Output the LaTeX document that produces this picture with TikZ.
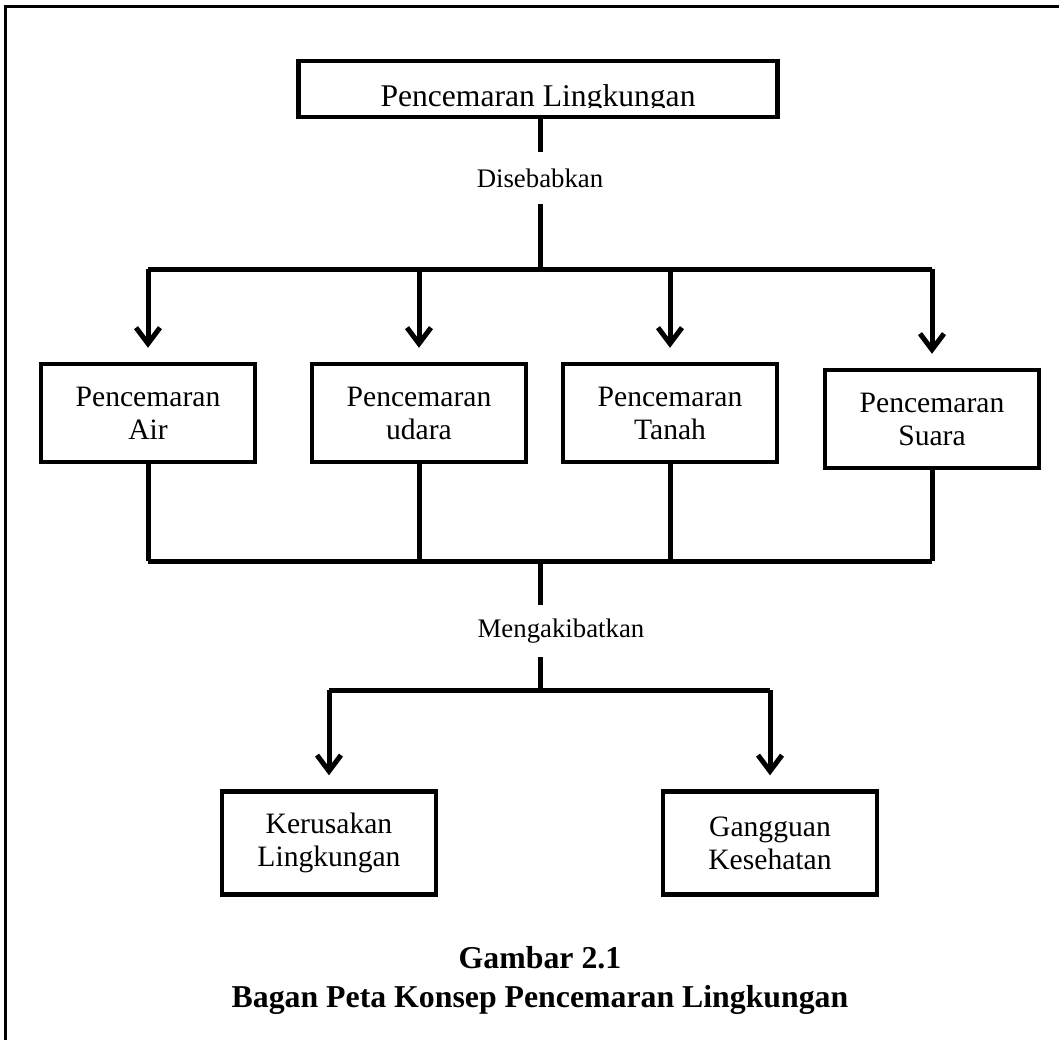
\documentclass[tikz,border=0pt]{standalone}
\usepackage{fontspec}
\setmainfont{Liberation Serif}
\usetikzlibrary{arrows.meta, positioning}

\begin{document}
\begin{tikzpicture}[x=0.5pt, y=-0.5pt,
      box/.style={rectangle, draw=black, line width=2.2pt,
                  minimum width=107pt, minimum height=49pt, inner sep=0pt,
                  font=\fontsize{14.8}{16.5}\selectfont, align=center},
      topbox/.style={rectangle, draw=black, line width=2.2pt,
                  minimum width=239.5pt, minimum height=28pt, inner sep=0pt},
      lbl/.style={inner sep=0pt, minimum height=26pt,
                  font=\fontsize{13.4}{15}\selectfont},
      line/.style={line width=2.5pt},
      arr/.style={-{Straight Barb[length=8pt, width=12pt]}, line width=2.5pt,
                  shorten >=7pt},
      judul/.style={font=\bfseries\fontsize{15.9}{19}\selectfont}
    ]
      \useasboundingbox (0,0) rectangle (1059,1040);
      \draw[line width=1.5pt] (1059,6) -- (5,6) -- (5,1040);

      % judul atas, huruf bawahnya terpotong
      \node[topbox] (pl) at (538,89) {};
      \begin{scope}
        \clip (pl.south west) ++(0,-12) rectangle (pl.north east);
        \node[anchor=base, font=\fontsize{15.8}{18}\selectfont]
          (pltxt) at ([yshift=6.5pt]pl.south) {Pencemaran Lingkungan};
      \end{scope}
      \node[lbl] (dis) at (540,178) {Disebabkan};

      \node[box] (air) at (148,413) {Pencemaran\\Air};
      \node[box] (udara) at (419,413) {Pencemaran\\udara};
      \node[box] (tanah) at (670,413) {Pencemaran\\Tanah};
      \node[box] (suara) at (932,419) {Pencemaran\\Suara};

      \node[lbl] (mk) at (561,631) {Mengakibatkan};
      \node[box, minimum height=51.5pt] (ker) at (329,843) {Kerusakan\\Lingkungan};
      \node[box, minimum height=51.5pt] (gan) at (770,843) {Gangguan\\Kesehatan};

      \node[judul] (cap1) at (540,958) {Gambar 2.1};
      \node[judul] (cap2) at (540,1000) {Bagan Peta Konsep Pencemaran Lingkungan};

      \coordinate (t) at (540,269);
      \coordinate (m) at (540,561);
      \coordinate (b) at (540,690);

      \draw[line] (t |- pl.south) -- (t |- dis.north);
      \draw[line] (t |- dis.south) -- (t);
      \draw[line] (air.north |- t) -- (suara.north |- t);
      \foreach \x in {air,udara,tanah,suara}
        \draw[arr] (\x.north |- t) -- (\x.north);

      \foreach \x in {air,udara,tanah,suara}
        \draw[line] (\x.south) -- (\x.south |- m);
      \draw[line] (air.south |- m) -- (suara.south |- m);
      \draw[line] (m) -- (m |- mk.north);
      \draw[line] (m |- mk.south) -- (b);
      \draw[line] (ker.north |- b) -- (gan.north |- b);
      \draw[arr] (ker.north |- b) -- (ker.north);
      \draw[arr] (gan.north |- b) -- (gan.north);
    \end{tikzpicture}
\end{document}
